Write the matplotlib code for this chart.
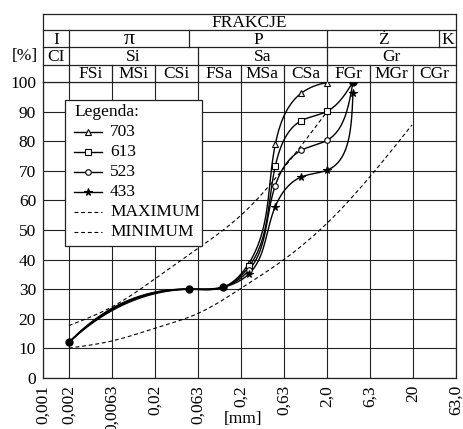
import numpy as np
import matplotlib
matplotlib.use("Agg")
import matplotlib.pyplot as plt
from matplotlib.transforms import blended_transform_factory
from matplotlib.lines import Line2D
from matplotlib.patches import Rectangle

plt.rcParams['font.family'] = ['Liberation Serif', 'DejaVu Serif']

# ---------------- data ----------------
sizes = [0.002, 0.05, 0.125, 0.25, 0.5, 1.0, 2.0, 4.0]
s703 = [12, 30, 30.7, 39.0, 78.9, 96.2, 99.8, 100]
s613 = [12, 30, 30.7, 37.8, 71.5, 86.9, 90.1, 100]
s523 = [12, 30, 30.7, 36.6, 65.0, 76.9, 80.3, 100]
s433 = [12, 30, 30.7, 35.3, 57.9, 67.9, 70.2, 96.2]

max_sizes = [0.002, 0.0063, 0.02, 0.063, 0.2, 0.63, 2.0]
max_vals = [17.7, 24.0, 33.5, 43.7, 55.0, 71.0, 90.0]
min_sizes = [0.002, 0.0063, 0.02, 0.063, 0.2, 0.63, 2.0, 6.3, 19.4]
min_vals = [10.1, 12.5, 16.8, 21.8, 30.3, 40.0, 52.3, 68.0, 85.5]

xticks = [0.001, 0.002, 0.0063, 0.02, 0.063, 0.2, 0.63, 2.0, 6.3, 20, 63]
xticklabels = ["0,001", "0,002", "0,0063", "0,02", "0,063", "0,2", "0,63",
               "2,0", "6,3", "20", "63,0"]
yticks = list(range(0, 101, 10))

header_title = "FRAKCJE"
row2_bounds = [0.001, 0.002, 0.05, 2.0, 40, 63]
row2_labels = ["I", "π", "P", "Ż", "K"]
row3_bounds = [0.001, 0.002, 0.063, 2.0, 63]
row3_labels = ["CI", "Si", "Sa", "Gr"]
row4_bounds = xticks
row4_labels = ["", "FSi", "MSi", "CSi", "FSa", "MSa", "CSa", "FGr", "MGr", "CGr"]

series = [("703", s703, dict(marker='^', ms=4.2, mfc='white')),
          ("613", s613, dict(marker='s', ms=3.8, mfc='white')),
          ("523", s523, dict(marker='o', ms=4.0, mfc='white')),
          ("433", s433, dict(marker='*', ms=5.5, mfc='black'))]


# ---------------- smoothing (parametric cubic spline) -------------
def spline_1d(t, y, tt, start='runout'):
    n = len(t)
    h = np.diff(t)
    A = np.zeros((n, n))
    b = np.zeros(n)
    if start == 'runout':
        A[0, 0] = 1
        A[0, 1] = -1
    else:
        A[0, 0] = 1
    A[-1, -1] = 1
    for i in range(1, n - 1):
        A[i, i - 1] = h[i - 1]
        A[i, i] = 2 * (h[i - 1] + h[i])
        A[i, i + 1] = h[i]
        b[i] = 6 * ((y[i + 1] - y[i]) / h[i] - (y[i] - y[i - 1]) / h[i - 1])
    M = np.linalg.solve(A, b)
    out = np.empty_like(tt)
    idx = np.clip(np.searchsorted(t, tt, side='right') - 1, 0, n - 2)
    for k, (tv, i) in enumerate(zip(tt, idx)):
        hi = h[i]
        a = (t[i + 1] - tv) / hi
        c = (tv - t[i]) / hi
        out[k] = (a * y[i] + c * y[i + 1]
                  + ((a ** 3 - a) * M[i] + (c ** 3 - c) * M[i + 1]) * hi ** 2 / 6)
    return out


def smooth(xs, ys, kx=86.0, ky=2.96, n=400, start='runout'):
    X = kx * np.log10(np.asarray(xs, float))
    Y = ky * np.asarray(ys, float)
    d = np.hypot(np.diff(X), np.diff(Y))
    t = np.concatenate([[0], np.cumsum(d)])
    tt = np.linspace(0, t[-1], n)
    Xs = spline_1d(t, X, tt, start)
    Ys = spline_1d(t, Y, tt, start)
    return 10 ** (Xs / kx), Ys / ky


# ---------------- figure ----------------
W, H = 463, 429
fig = plt.figure(figsize=(W / 100, H / 100), dpi=100)
L, R, B, T = 43, 456, 378, 82
ax = fig.add_axes([L / W, (H - B) / H, (R - L) / W, (B - T) / H])
ax.set_xscale('log')
ax.set_xlim(0.001, 63)
ax.set_ylim(0, 100)
ax.xaxis.set_minor_locator(matplotlib.ticker.NullLocator())
ax.set_xticks(xticks)
ax.set_xticklabels(xticklabels, rotation=90, fontsize=12.5)
ax.set_yticks(yticks)
ax.set_yticklabels([str(v) for v in yticks], fontsize=12.5)
ax.tick_params(axis='both', length=0)
ax.tick_params(axis='x', pad=5)
ax.tick_params(axis='y', pad=5)
for lab in ax.get_xticklabels():
    lab.set_verticalalignment('top')
ax.grid(True, color='#222222', lw=0.8)
ax.set_axisbelow(True)
for sp in ax.spines.values():
    sp.set_color('#222222')
    sp.set_linewidth(0.9)

# curves
for name, vals, mk in series:
    xs, ys = smooth(sizes, vals)
    ax.plot(xs, ys, color='black', lw=1.0, zorder=3)
    ax.plot(sizes[3:7], vals[3:7], ls='none', color='black', mew=0.8,
            zorder=4, **mk)
    if vals[-1] < 100:
        ax.plot(sizes[-1:], vals[-1:], ls='none', color='black', mew=0.8,
                zorder=4, **mk)
# junction points
ax.plot(sizes[:3] + sizes[-1:], s703[:3] + s703[-1:], ls='none', marker='o',
        ms=5, color='black', zorder=5)

for xs_, vs_ in [(max_sizes, max_vals), (min_sizes, min_vals)]:
    xs, ys = smooth(xs_, vs_, start='natural')
    ax.plot(xs, ys, color='black', lw=0.8, ls=(0, (3.5, 2.5)), zorder=3)

# ---------------- header table ----------------
tr = blended_transform_factory(ax.transData, ax.transAxes)
fy = lambda ypx: (B - ypx) / (B - T)
rows_px = [82, 64.5, 47, 30, 13.5]
rows = [fy(p) for p in rows_px]
kw = dict(color='#222222', lw=0.9, transform=tr, clip_on=False)
for r in rows[1:]:
    ax.plot([0.001, 63], [r, r], **kw)
for xe in [0.001, 63]:
    ax.plot([xe, xe], [1.0, rows[-1]], **kw)


def header_row(bounds, labels, y0, y1):
    for xb in bounds[1:-1]:
        ax.plot([xb, xb], [y0, y1], **kw)
    for lab, a, b in zip(labels, bounds[:-1], bounds[1:]):
        xc = np.sqrt(a * b)
        fs = 16 if lab == "π" else 12.5
        ax.text(xc, (y0 + y1) / 2 - 0.004, lab, transform=tr, ha='center',
                va='center', fontsize=fs)


header_row(row4_bounds, row4_labels, rows[0], rows[1])
header_row(row3_bounds, row3_labels, rows[1], rows[2])
header_row(row2_bounds, row2_labels, rows[2], rows[3])
header_row([0.001, 63], [header_title], rows[3], rows[4])

fig.text(38 / W, 1 - 56.5 / H, "[%]", ha='right', va='center', fontsize=12.5)
fig.text(243 / W, 1 - 419 / H, "[mm]", ha='center', va='center', fontsize=12.5)

# ---------------- legend ----------------
lx0, lx1, ly0, ly1 = 65, 202, 100, 246
fig.add_artist(Rectangle((lx0 / W, 1 - ly1 / H), (lx1 - lx0) / W, (ly1 - ly0) / H,
                         transform=fig.transFigure, facecolor='white',
                         edgecolor='#222222', lw=0.9, zorder=6))
fig.text(74 / W, 1 - 112 / H, "Legenda:", ha='left', va='center',
         fontsize=12.5, zorder=7)
leg_items = [(n, dict(ls='-', lw=1.0, **mk)) for n, _, mk in series]
leg_items += [("MAXIMUM", dict(ls=(0, (3.5, 2.5)), lw=0.8)),
              ("MINIMUM", dict(ls=(0, (3.5, 2.5)), lw=0.8))]
for i, (name, st) in enumerate(leg_items):
    yc = 1 - (132 + 20 * i) / H
    ln = Line2D([74 / W, 102 / W], [yc, yc], transform=fig.transFigure,
                color='black', mew=0.8, zorder=7,
                markevery=[1] if 'marker' in st else None, **st)
    if 'marker' in st:
        ln.set_data([74 / W, 88 / W, 102 / W], [yc, yc, yc])
    fig.add_artist(ln)
    fig.text(110 / W, yc, name, ha='left', va='center', fontsize=12.5, zorder=7)

fig.savefig("out.png", dpi=100)
